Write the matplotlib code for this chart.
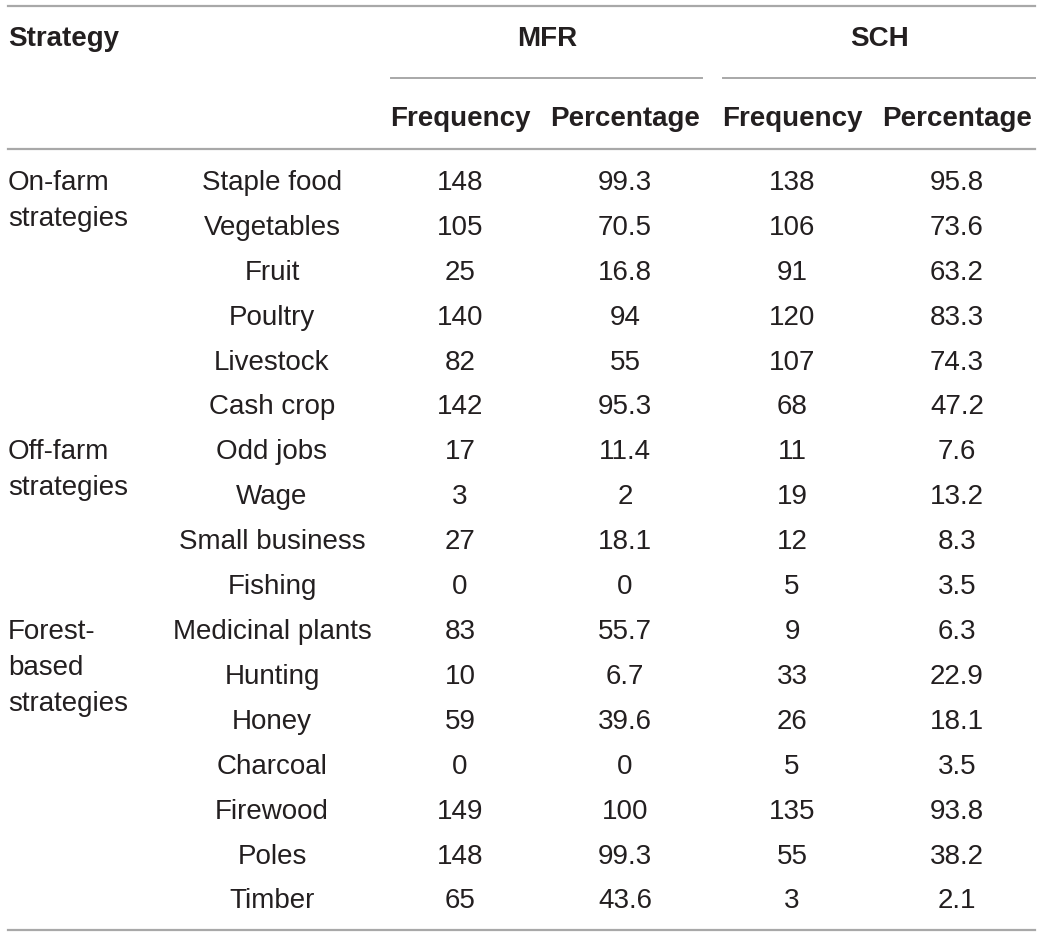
import matplotlib.pyplot as plt

plt.rcParams['font.family'] = ['Liberation Sans', 'DejaVu Sans']

# table content
groups = ['On-farm\nstrategies', 'Off-farm\nstrategies', 'Forest-\nbased\nstrategies']
group_start = [0, 6, 10]
items = ['Staple food', 'Vegetables', 'Fruit', 'Poultry', 'Livestock', 'Cash crop',
         'Odd jobs', 'Wage', 'Small business', 'Fishing',
         'Medicinal plants', 'Hunting', 'Honey', 'Charcoal', 'Firewood', 'Poles', 'Timber']
mfr_freq = ['148', '105', '25', '140', '82', '142', '17', '3', '27', '0',
            '83', '10', '59', '0', '149', '148', '65']
mfr_pct = ['99.3', '70.5', '16.8', '94', '55', '95.3', '11.4', '2', '18.1', '0',
           '55.7', '6.7', '39.6', '0', '100', '99.3', '43.6']
sch_freq = ['138', '106', '91', '120', '107', '68', '11', '19', '12', '5',
            '9', '33', '26', '5', '135', '55', '3']
sch_pct = ['95.8', '73.6', '63.2', '83.3', '74.3', '47.2', '7.6', '13.2', '8.3', '3.5',
           '6.3', '22.9', '18.1', '3.5', '93.8', '38.2', '2.1']
sites = ['MFR', 'SCH']
sub_headers = ['Frequency', 'Percentage', 'Frequency', 'Percentage']

W, H = 1043, 936
fig = plt.figure(figsize=(W / 100, H / 100), dpi=100)
ax = fig.add_axes([0, 0, 1, 1])
ax.set_xlim(0, W)
ax.set_ylim(H, 0)
ax.axis('off')

fs = 20
line_col = '#a8a8a8'
txt_col = '#231f20'

# horizontal rules
ax.plot([8, 1035], [6, 6], color=line_col, lw=1.6)
ax.plot([8, 1035], [149, 149], color=line_col, lw=1.6)
ax.plot([8, 1035], [930, 930], color=line_col, lw=1.6)
ax.plot([391, 702], [78, 78], color=line_col, lw=1.4)
ax.plot([723, 1035], [78, 78], color=line_col, lw=1.4)

# headers
ax.text(8, 39, 'Strategy', fontsize=fs, fontweight='bold', ha='left', va='center', color=txt_col)
for x, s in zip([547, 880], sites):
    ax.text(x, 39, s, fontsize=fs, fontweight='bold', ha='center', va='center', color=txt_col)
col_x = [460, 625, 792, 957]
for x, s in zip(col_x, sub_headers):
    ax.text(x, 119, s, fontsize=fs, fontweight='bold', ha='center', va='center', color=txt_col)

# body
y0, dy = 183, 44.9
for g, start in zip(groups, group_start):
    ax.text(8, y0 + start * dy - 13, g, fontsize=fs, ha='left', va='top', color=txt_col,
            linespacing=1.5)
for i in range(len(items)):
    y = y0 + i * dy
    ax.text(272, y, items[i], fontsize=fs, ha='center', va='center', color=txt_col)
    for x, col in zip(col_x, [mfr_freq, mfr_pct, sch_freq, sch_pct]):
        ax.text(x, y, col[i], fontsize=fs, ha='center', va='center', color=txt_col)

fig.savefig('out.png', dpi=100)
